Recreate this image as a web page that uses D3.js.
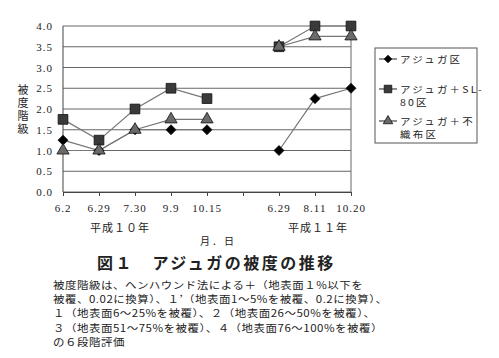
<!DOCTYPE html>
<html lang="ja">
<head>
<meta charset="UTF-8">
<title>アジュガの被度の推移</title>
<script src="https://d3js.org/d3.v7.min.js"></script>
<style>
  * { margin: 0; padding: 0; box-sizing: border-box; }
  body { background: #fff; width: 499px; height: 358px; overflow: hidden; }
  svg { display: block; }
  .num { font-family: "Liberation Serif", "DejaVu Serif", serif; font-size: 11px; fill: #222; }
  .jp { font-family: "Noto Sans CJK JP", sans-serif; fill: #222; }
</style>
</head>
<body>
<svg width="499" height="358"></svg>
<script>
const dates = ["6.2", "6.29", "7.30", "9.9", "10.15", "", "6.29", "8.11", "10.20"];
const ajugaOnly = [1.25, 1.0, 1.5, 1.5, 1.5, null, 1.0, 2.25, 2.5];
const ajugaSL80 = [1.75, 1.25, 2.0, 2.5, 2.25, null, 3.5, 4.0, 4.0];
const ajugaFushokufu = [1.0, 1.0, 1.5, 1.75, 1.75, null, 3.5, 3.75, 3.75];
const yTicks = [0, 0.5, 1, 1.5, 2, 2.5, 3, 3.5, 4];

const svg = d3.select("svg");
const plotL = 63, plotR = 351, plotT = 26, plotB = 192;

const x = d3.scalePoint().domain(d3.range(dates.length)).range([plotL, plotR]);
const y = d3.scaleLinear().domain([0, 4]).range([plotB, plotT]);

// gridlines
svg.append("g").selectAll("line")
  .data(yTicks)
  .join("line")
  .attr("x1", plotL).attr("x2", plotR)
  .attr("y1", d => y(d)).attr("y2", d => y(d))
  .attr("stroke", "#666").attr("stroke-width", 1);

// frame
svg.append("line").attr("x1", plotL).attr("x2", plotL).attr("y1", plotT).attr("y2", plotB)
  .attr("stroke", "#444");
svg.append("line").attr("x1", plotR).attr("x2", plotR).attr("y1", plotT).attr("y2", plotB)
  .attr("stroke", "#666");

// x axis with ticks downward
const xAxis = svg.append("g")
  .attr("transform", `translate(0,${plotB})`)
  .call(d3.axisBottom(x).tickSize(4).tickSizeOuter(0).tickFormat(""));
xAxis.select(".domain").attr("stroke", "#444");
xAxis.selectAll(".tick line").attr("stroke", "#444");

svg.append("g").selectAll("text")
  .data(dates)
  .join("text")
  .attr("class", "num")
  .attr("x", (d, i) => x(i))
  .attr("y", 212)
  .attr("text-anchor", "middle")
  .attr("letter-spacing", 1)
  .text(d => d);

// y labels
svg.append("g").selectAll("text")
  .data(yTicks)
  .join("text")
  .attr("class", "num")
  .attr("x", 53)
  .attr("y", d => y(d) + 4)
  .attr("text-anchor", "end")
  .attr("letter-spacing", 1)
  .text(d => d.toFixed(1));

// y title (vertical)
svg.append("text")
  .attr("class", "jp")
  .attr("x", 23).attr("y", 110)
  .attr("font-size", 11)
  .attr("writing-mode", "vertical-rl")
  .attr("text-anchor", "middle")
  .attr("letter-spacing", 2)
  .text("被度階級");

const diamond = { draw(ctx, size) { const r = Math.sqrt(size / 2); ctx.moveTo(0, -r); ctx.lineTo(r, 0); ctx.lineTo(0, r); ctx.lineTo(-r, 0); ctx.closePath(); } };

const series = [
  { name: "アジュガ区", values: ajugaOnly, symbol: diamond, size: 50, fill: "#000" },
  { name: "アジュガ＋SL-80区", values: ajugaSL80, symbol: d3.symbolSquare, size: 95, fill: "#3a3a3a" },
  { name: "アジュガ＋不織布区", values: ajugaFushokufu, symbol: d3.symbolTriangle, size: 65, fill: "#6a6a6a" }
];

const line = d3.line()
  .defined(d => d != null)
  .x((d, i) => x(i))
  .y(d => y(d));

series.forEach(s => {
  svg.append("path")
    .datum(s.values)
    .attr("d", line)
    .attr("fill", "none")
    .attr("stroke", "#777")
    .attr("stroke-width", 1.2);
});

series.forEach(s => {
  svg.append("g").selectAll("path")
    .data(s.values.map((v, i) => ({ v, i })).filter(d => d.v != null))
    .join("path")
    .attr("d", d3.symbol().type(s.symbol).size(s.size))
    .attr("transform", d => `translate(${x(d.i)},${y(d.v)})`)
    .attr("fill", s.fill)
    .attr("stroke", "#111")
    .attr("stroke-width", 0.8);
});

// squashed text line (printed Mincho is a little flatter than Noto)
function flatText(parent, str, px, py, size, squash, spacing) {
  return parent.append("text").attr("class", "jp")
    .attr("transform", `translate(${px},${py}) scale(1,${squash})`)
    .attr("font-size", size)
    .attr("letter-spacing", spacing)
    .text(str);
}

// legend
const lg = svg.append("g");
lg.append("rect").attr("x", 375).attr("y", 48).attr("width", 102).attr("height", 95)
  .attr("fill", "#fff").attr("stroke", "#555");
const legendRows = [
  { lines: ["アジュガ区"], y: 59 },
  { lines: ["アジュガ＋SL-", "80区"], y: 89 },
  { lines: ["アジュガ＋不", "織布区"], y: 121 }
];
legendRows.forEach((r, k) => {
  const s = series[k];
  lg.append("line").attr("x1", 379).attr("x2", 397).attr("y1", r.y).attr("y2", r.y)
    .attr("stroke", "#444").attr("stroke-width", 1.2);
  lg.append("path")
    .attr("d", d3.symbol().type(s.symbol).size(s.size * 0.6))
    .attr("transform", `translate(388,${r.y})`)
    .attr("fill", s.fill).attr("stroke", "#111").attr("stroke-width", 0.8);
  r.lines.forEach((txt, j) => {
    flatText(lg, txt, 400, r.y + 4 + j * 13.2, 10.5, 0.85, 2.2);
  });
});

// year labels
svg.append("text").attr("class", "jp").attr("x", 120).attr("y", 232)
  .attr("font-size", 11).attr("text-anchor", "middle").attr("letter-spacing", 1).text("平成１０年");
svg.append("text").attr("class", "jp").attr("x", 318).attr("y", 232)
  .attr("font-size", 11).attr("text-anchor", "middle").attr("letter-spacing", 1).text("平成１１年");
svg.append("text").attr("class", "jp").attr("x", 218).attr("y", 245)
  .attr("font-size", 10).attr("text-anchor", "middle").attr("letter-spacing", 2).text("月．日");

// figure title
svg.append("text").attr("class", "jp").attr("x", 97).attr("y", 269)
  .attr("font-size", 16).attr("font-weight", "bold").attr("letter-spacing", 2.5)
  .text("図１　アジュガの被度の推移");

// note
const note = [
  "被度階級は、ヘンハウンド法による＋（地表面１%以下を",
  "被覆、0.02に換算）、１’（地表面1～5%を被覆、0.2に換算）、",
  "１（地表面6～25%を被覆）、２（地表面26～50%を被覆）、",
  "３（地表面51～75%を被覆）、４（地表面76～100%を被覆）",
  "の６段階評価"
];
const noteG = svg.append("g");
note.forEach((str, i) => {
  flatText(noteG, str, 53, 288.7 + i * 14.3, 11.5, 0.85, 0.5);
});
</script>
</body>
</html>
